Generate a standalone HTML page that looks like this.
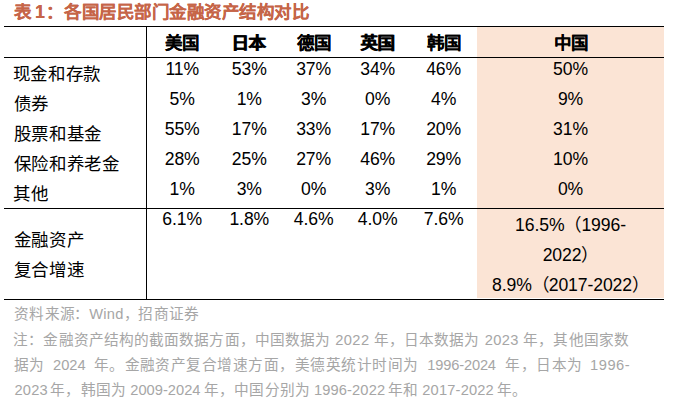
<!DOCTYPE html>
<html lang="zh-CN"><head><meta charset="utf-8"><title>表1 各国居民部门金融资产结构对比</title>
<style>
html,body{margin:0;padding:0;background:#fff;}
body{width:676px;height:405px;position:relative;overflow:hidden;font-family:"Liberation Sans",sans-serif;color:#000;}
.a{position:absolute;white-space:nowrap;}
.ti{font-size:17.5px;line-height:20px;font-weight:bold;color:#C66548;text-shadow:0.2px 0 0 #C66548;}
.hd{font-size:17.5px;line-height:20px;font-weight:bold;text-shadow:0.2px 0 0 #000;}
.lb{font-size:17.5px;line-height:20px;}
.nm{font-size:17.6px;line-height:20px;letter-spacing:-0.1px;}
.kp{font-size:17.5px;}
.c{text-align:center;}
.ft{font-size:14.67px;line-height:18px;color:#A6A6A6;}
.ftl{font-size:14.67px;line-height:18px;color:#A6A6A6;}
</style></head><body>
<div class="a" style="left:477px;top:27px;width:187px;height:271px;background:#FBE4D5"></div>
<div class="a" style="left:4px;top:26px;width:660px;height:1px;background:#000"></div>
<div class="a" style="left:4px;top:57px;width:660px;height:1px;background:#000"></div>
<div class="a" style="left:4px;top:208px;width:660px;height:1px;background:#000"></div>
<div class="a" style="left:4px;top:299px;width:660px;height:1px;background:#000"></div>
<div class="a" style="left:146px;top:26px;width:1px;height:274px;background:#000"></div>
<div class="a nm c" style="left:132.2px;top:59.0px;width:100px">11%</div>
<div class="a nm c" style="left:199.3px;top:59.0px;width:100px">53%</div>
<div class="a nm c" style="left:263.6px;top:59.0px;width:100px">37%</div>
<div class="a nm c" style="left:327.7px;top:59.0px;width:100px">34%</div>
<div class="a nm c" style="left:393.6px;top:59.0px;width:100px">46%</div>
<div class="a nm c" style="left:520.5px;top:59.0px;width:100px">50%</div>
<div class="a nm c" style="left:132.2px;top:89.0px;width:100px">5%</div>
<div class="a nm c" style="left:199.3px;top:89.0px;width:100px">1%</div>
<div class="a nm c" style="left:263.6px;top:89.0px;width:100px">3%</div>
<div class="a nm c" style="left:327.7px;top:89.0px;width:100px">0%</div>
<div class="a nm c" style="left:393.6px;top:89.0px;width:100px">4%</div>
<div class="a nm c" style="left:520.5px;top:89.0px;width:100px">9%</div>
<div class="a nm c" style="left:132.2px;top:119.0px;width:100px">55%</div>
<div class="a nm c" style="left:199.3px;top:119.0px;width:100px">17%</div>
<div class="a nm c" style="left:263.6px;top:119.0px;width:100px">33%</div>
<div class="a nm c" style="left:327.7px;top:119.0px;width:100px">17%</div>
<div class="a nm c" style="left:393.6px;top:119.0px;width:100px">20%</div>
<div class="a nm c" style="left:520.5px;top:119.0px;width:100px">31%</div>
<div class="a nm c" style="left:132.2px;top:149.0px;width:100px">28%</div>
<div class="a nm c" style="left:199.3px;top:149.0px;width:100px">25%</div>
<div class="a nm c" style="left:263.6px;top:149.0px;width:100px">27%</div>
<div class="a nm c" style="left:327.7px;top:149.0px;width:100px">46%</div>
<div class="a nm c" style="left:393.6px;top:149.0px;width:100px">29%</div>
<div class="a nm c" style="left:520.5px;top:149.0px;width:100px">10%</div>
<div class="a nm c" style="left:132.2px;top:179.0px;width:100px">1%</div>
<div class="a nm c" style="left:199.3px;top:179.0px;width:100px">3%</div>
<div class="a nm c" style="left:263.6px;top:179.0px;width:100px">0%</div>
<div class="a nm c" style="left:327.7px;top:179.0px;width:100px">3%</div>
<div class="a nm c" style="left:393.6px;top:179.0px;width:100px">1%</div>
<div class="a nm c" style="left:520.5px;top:179.0px;width:100px">0%</div>
<div class="a nm c" style="left:132.2px;top:209.0px;width:100px">6.1%</div>
<div class="a nm c" style="left:199.3px;top:209.0px;width:100px">1.8%</div>
<div class="a nm c" style="left:263.6px;top:209.0px;width:100px">4.6%</div>
<div class="a nm c" style="left:327.7px;top:209.0px;width:100px">4.0%</div>
<div class="a nm c" style="left:393.6px;top:209.0px;width:100px">7.6%</div>
<div class="a nm c" style="left:480.5px;top:215.0px;width:180px">16.5%<span class="kp">（</span>1996-</div>
<div class="a nm c" style="left:480.5px;top:245.0px;width:180px">2022<span class="kp">）</span></div>
<div class="a nm c" style="left:480.5px;top:275.0px;width:180px">8.9%<span class="kp">（</span>2017-2022<span class="kp">）</span></div>
<div id="s0" class="a ti" style="left:13.75px;top:2px">表</div>
<div id="s1" class="a ti" style="left:35.03px;top:2px">1</div>
<div id="s2" class="a ti" style="left:45.99px;top:2px">：</div>
<div id="s3" class="a ti" style="left:64.06px;top:2px;letter-spacing:0.513px">各国居民部门金融资产结构对比</div>
<div id="s4" class="a hd" style="left:164.72px;top:33px">美国</div>
<div id="s5" class="a hd" style="left:231.39px;top:33px">日本</div>
<div id="s6" class="a hd" style="left:296.79px;top:33px">德国</div>
<div id="s7" class="a hd" style="left:360.35px;top:33px">英国</div>
<div id="s8" class="a hd" style="left:426.94px;top:33px">韩国</div>
<div id="s9" class="a hd" style="left:553.56px;top:33px">中国</div>
<div id="s10" class="a lb" style="left:12.69px;top:64px;letter-spacing:0.700px">现金和存款</div>
<div id="s11" class="a lb" style="left:13.72px;top:94px;letter-spacing:0.700px">债券</div>
<div id="s12" class="a lb" style="left:13.61px;top:124px;letter-spacing:0.700px">股票和基金</div>
<div id="s13" class="a lb" style="left:13.58px;top:154px;letter-spacing:0.700px">保险和养老金</div>
<div id="s14" class="a lb" style="left:12.99px;top:184px;letter-spacing:0.700px">其他</div>
<div id="s15" class="a lb" style="left:13.56px;top:230px;letter-spacing:0.700px">金融资产</div>
<div id="s16" class="a lb" style="left:13.72px;top:260px;letter-spacing:0.700px">复合增速</div>
<div id="s17" class="a ft" style="left:14.25px;top:305px;letter-spacing:0.231px">资料来源</div>
<div id="s18" class="a ft" style="left:73.83px;top:305px">：</div>
<div id="s19" class="a ftl" style="left:89.33px;top:305px;letter-spacing:0.190px">Wind</div>
<div id="s20" class="a ft" style="left:123.56px;top:305px">，</div>
<div id="s21" class="a ft" style="left:138.27px;top:305px;letter-spacing:0.378px">招商证券</div>
<div id="s22" class="a ft" style="left:13.30px;top:331px;letter-spacing:0.088px">注：金融资产结构的截面数据方面，中国数据为</div>
<div id="s23" class="a ftl" style="left:335.26px;top:331px;letter-spacing:0.406px">2022</div>
<div id="s24" class="a ft" style="left:373.72px;top:331px;letter-spacing:0.075px">年，日本数据为</div>
<div id="s25" class="a ftl" style="left:484.63px;top:331px;letter-spacing:0.381px">2023</div>
<div id="s26" class="a ft" style="left:522.77px;top:331px;letter-spacing:0.279px">年，其他国家数</div>
<div id="s27" class="a ft" style="left:14.02px;top:356px;letter-spacing:0.400px">据为</div>
<div id="s28" class="a ftl" style="left:52.90px;top:356px;letter-spacing:0.088px">2024</div>
<div id="s29" class="a ft" style="left:93.52px;top:356px;letter-spacing:0.495px">年。金融资产复合增速方面，美德英统计时间为</div>
<div id="s30" class="a ftl" style="left:427.22px;top:356px;letter-spacing:-0.161px">1996-2024</div>
<div id="s31" class="a ft" style="left:505.12px;top:356px;letter-spacing:0.562px">年，日本为</div>
<div id="s32" class="a ftl" style="left:590.08px;top:356px;letter-spacing:0.528px">1996-</div>
<div id="s33" class="a ftl" style="left:14.40px;top:381px;letter-spacing:0.242px">2023</div>
<div id="s34" class="a ft" style="left:50.17px;top:381px;letter-spacing:0.225px">年，韩国为</div>
<div id="s35" class="a ftl" style="left:130.26px;top:381px;letter-spacing:0.020px">2009-2024</div>
<div id="s36" class="a ft" style="left:203.97px;top:381px;letter-spacing:0.150px">年，中国分别为</div>
<div id="s37" class="a ftl" style="left:313.94px;top:381px;letter-spacing:0.130px">1996-2022</div>
<div id="s38" class="a ft" style="left:387.77px;top:381px">年和</div>
<div id="s39" class="a ftl" style="left:422.29px;top:381px;letter-spacing:0.175px">2017-2022</div>
<div id="s40" class="a ft" style="left:497.12px;top:381px">年。</div>
</body></html>
